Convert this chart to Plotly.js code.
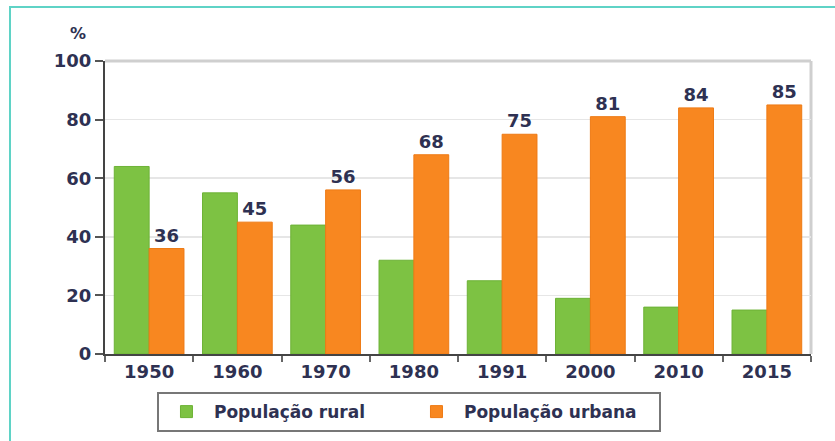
<!DOCTYPE html>
<html>
<head>
<meta charset="utf-8">
<script src="https://cdn.plot.ly/plotly-3.0.1.min.js"></script>
<style>
html,body{margin:0;padding:0;background:#fff;}
#frame{position:absolute;left:9px;top:6px;width:830px;height:440px;border-top:2px solid #5fd3c6;border-left:2px solid #5fd3c6;}
#chart{position:absolute;left:0;top:0;width:835px;height:441px;}
</style>
</head>
<body>
<div id="frame"></div>
<div id="chart"></div>
<script>
const years = ['1950','1960','1970','1980','1991','2000','2010','2015'];
const rural = [64, 55, 44, 32, 25, 19, 16, 15];
const urbana = [36, 45, 56, 68, 75, 81, 84, 85];
const yTicks = [0, 20, 40, 60, 80, 100];

const textColor = '#2e3152';
const traces = [
  {
    type: 'bar', name: 'População rural', x: years, y: rural,
    marker: {color: '#7dc243', line: {color: '#6db236', width: 1}},
    hoverinfo: 'y'
  },
  {
    type: 'bar', name: 'População urbana', x: years, y: urbana,
    marker: {color: '#f88720', line: {color: '#ee7a14', width: 1}},
    text: urbana.map(String), textposition: 'outside', cliponaxis: false,
    textfont: {family: 'DejaVu Sans', size: 18, color: textColor, weight: 'bold'},
    hoverinfo: 'y'
  }
];

const layout = {
  width: 835, height: 441,
  margin: {l: 105, r: 24, t: 61, b: 87},
  paper_bgcolor: 'rgba(0,0,0,0)', plot_bgcolor: '#fff',
  barmode: 'group', bargap: 0.21, bargroupgap: 0,
  showlegend: true,
  font: {family: 'DejaVu Sans', color: textColor},
  xaxis: {
    type: 'category', tickson: 'boundaries', ticks: 'outside', ticklen: 6, tickwidth: 2, tickcolor: '#666',
    showline: true, linecolor: '#444', linewidth: 2, showgrid: false, automargin: false,
    tickfont: {family: 'DejaVu Sans', size: 18, color: textColor, weight: 'bold'},
    fixedrange: true
  },
  yaxis: {
    range: [0, 100], tickvals: yTicks, ticktext: yTicks.map(String),
    ticks: 'outside', ticklen: 8, tickwidth: 2, tickcolor: '#555',
    showline: true, linecolor: '#444', linewidth: 2, automargin: false,
    showgrid: true, gridcolor: '#e6e6e6', gridwidth: 1.5, zeroline: false,
    tickfont: {family: 'DejaVu Sans', size: 18, color: textColor, weight: 'bold'},
    fixedrange: true
  },
  shapes: [
    {type: 'line', xref: 'paper', yref: 'paper', x0: 0, x1: 1, y0: 1, y1: 1, line: {color: '#cfcfcf', width: 3}, layer: 'below'},
    {type: 'line', xref: 'paper', yref: 'paper', x0: 1, x1: 1, y0: 0, y1: 1, line: {color: '#cfcfcf', width: 3}, layer: 'below'}
  ],
  annotations: [
    {text: '%', xref: 'paper', yref: 'paper', x: -0.024, y: 1.055, xanchor: 'right', yanchor: 'bottom', showarrow: false,
     font: {family: 'DejaVu Sans', size: 16, color: textColor, weight: 'bold'}}
  ],
  legend: {
    orientation: 'h', xref: 'container', yref: 'container',
    x: 0.188, xanchor: 'left', y: 0.111, yanchor: 'top',
    bordercolor: '#777', borderwidth: 2, bgcolor: '#fff',
    font: {family: 'DejaVu Sans', size: 17, color: textColor, weight: 'bold'},
    itemwidth: 45,
    entrywidth: 190, entrywidthmode: 'pixels', traceorder: 'normal'
  }
};

Plotly.newPlot('chart', traces, layout, {displayModeBar: false, staticPlot: true});
</script>
</body>
</html>
